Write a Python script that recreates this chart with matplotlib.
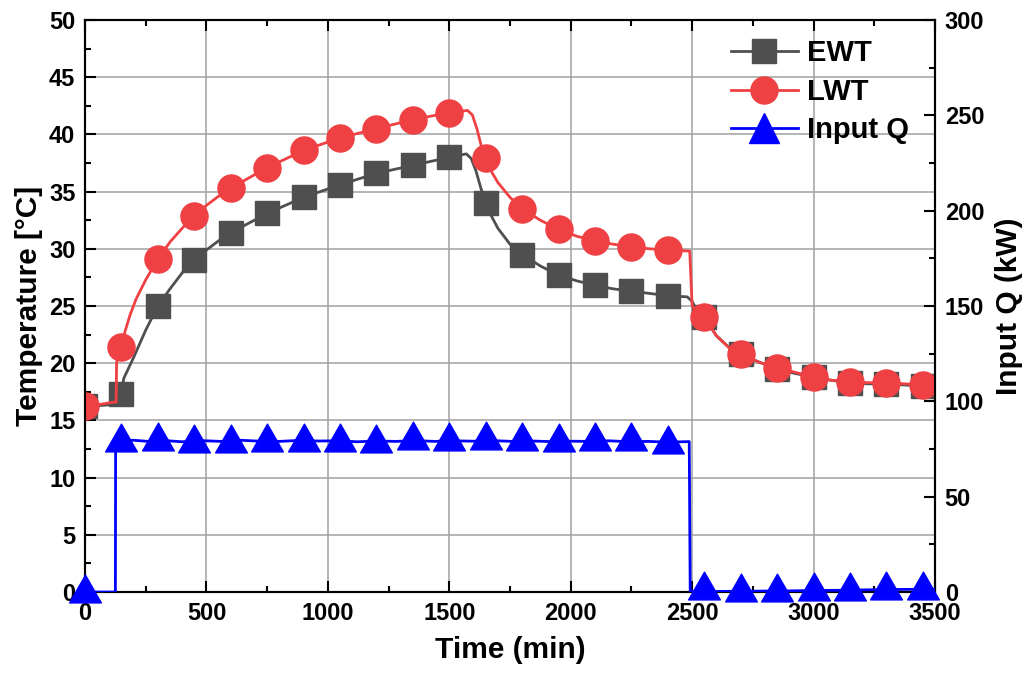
import numpy as np
import matplotlib
matplotlib.use("Agg")
import matplotlib.pyplot as plt
from matplotlib.path import Path
from matplotlib.ticker import MultipleLocator

plt.rcParams["font.family"] = ["Liberation Sans", "DejaVu Sans"]
plt.rcParams["font.weight"] = "bold"

# marker data (every 150 min)
t_mk = [0, 150, 300, 450, 600, 750, 900, 1050, 1200, 1350, 1500, 1650,
        1800, 1950, 2100, 2250, 2400, 2550, 2700, 2850, 3000, 3150, 3300, 3450]
ewt_mk = [16.3, 17.3, 25.0, 29.0, 31.4, 33.1, 34.5, 35.6, 36.6, 37.3, 38.0, 34.0,
          29.5, 27.7, 26.8, 26.3, 25.9, 24.0, 20.8, 19.5, 18.8, 18.3, 18.2, 18.0]
lwt_mk = [16.3, 21.4, 29.1, 32.9, 35.3, 37.1, 38.6, 39.7, 40.5, 41.3, 41.9, 37.9,
          33.5, 31.7, 30.7, 30.2, 29.9, 24.0, 20.8, 19.6, 18.8, 18.4, 18.3, 18.1]
q_mk = [0.0, 79.0, 79.5, 78.5, 78.5, 79.0, 79.0, 79.0, 78.5, 80.5, 79.5, 80.5,
        79.5, 79.0, 79.5, 79.5, 78.0, 1.5, 0.3, 0.6, 0.9, 0.9, 1.7, 1.5]

# line data
t_ewt = [0, 60, 125, 140, 150, 160, 200, 250, 300, 350, 400, 450, 500, 550, 600,
         750, 900, 1050, 1200, 1350, 1500, 1570, 1590, 1610, 1630, 1650, 1675, 1700, 1750, 1800,
         1875, 1950, 2025, 2100, 2175, 2250, 2325, 2400, 2480, 2500, 2520, 2550,
         2600, 2650, 2700, 2775, 2850, 2925, 3000, 3075, 3150, 3225, 3300, 3375, 3450, 3500]
ewt = [16.3, 16.3, 16.4, 16.9, 17.6, 18.7, 20.5, 22.9, 25.0, 26.5, 27.9, 29.0, 29.9, 30.7, 31.4,
       33.1, 34.5, 35.6, 36.6, 37.3, 38.0, 38.3, 37.9, 36.8, 35.3, 34.0, 32.8, 31.8, 30.4, 29.5,
       28.5, 27.7, 27.2, 26.8, 26.5, 26.3, 26.1, 25.9, 25.8, 25.4, 24.6, 24.0,
       22.4, 21.4, 20.8, 20.1, 19.5, 19.1, 18.8, 18.5, 18.3, 18.2, 18.2, 18.1, 18.0, 18.0]

t_lwt = [0, 60, 120, 128, 130, 135, 150, 165, 185, 210, 250, 300, 350, 400, 450, 500, 550, 600,
         750, 900, 1050, 1200, 1350, 1500, 1575, 1595, 1615, 1635, 1650, 1675, 1700, 1750, 1800,
         1875, 1950, 2025, 2100, 2175, 2250, 2325, 2400, 2490, 2500, 2550,
         2600, 2650, 2700, 2775, 2850, 2925, 3000, 3075, 3150, 3225, 3300, 3375, 3450, 3500]
lwt = [16.3, 16.4, 16.6, 16.6, 20.0, 20.7, 21.4, 22.8, 24.2, 25.6, 27.3, 29.1, 30.6, 31.8, 32.9, 33.8, 34.6, 35.3,
       37.1, 38.6, 39.7, 40.5, 41.3, 41.9, 42.1, 41.7, 40.4, 38.7, 37.9, 36.7, 35.8, 34.5, 33.5,
       32.5, 31.7, 31.1, 30.7, 30.4, 30.2, 30.0, 29.9, 29.8, 25.0, 24.0,
       22.4, 21.4, 20.8, 20.1, 19.6, 19.2, 18.8, 18.5, 18.4, 18.3, 18.3, 18.2, 18.1, 18.1]

t_q = [0, 125, 126, 200, 260, 320, 400, 480, 560, 640, 720, 800, 880, 960, 1040,
       1120, 1200, 1280, 1360, 1440, 1520, 1600, 1680, 1760, 1840, 1920, 2000,
       2080, 2160, 2240, 2320, 2400, 2488, 2492,
       2600, 2700, 2800, 2900, 3000, 3100, 3200, 3300, 3400, 3500]
q = [0.0, 0.0, 79.3, 79.6, 79.0, 79.5, 78.8, 79.4, 79.0, 79.6, 79.1, 79.0, 79.5, 79.2, 79.3,
     78.8, 79.2, 79.0, 79.4, 79.0, 79.3, 79.1, 79.4, 79.0, 79.2, 78.9, 79.1,
     79.0, 79.3, 78.8, 79.0, 78.6, 78.9, 0.3,
     0.3, 0.4, 0.5, 0.6, 0.8, 0.9, 1.1, 1.3, 1.4, 1.4]

gray = "#4f4f4f"
red = "#ef4043"
blue = "#0000ff"

# triangle with its centroid near the data point
tri = Path([(0, 1), (-0.914, -0.6), (0.914, -0.6), (0, 1)],
           [Path.MOVETO, Path.LINETO, Path.LINETO, Path.CLOSEPOLY])

fig = plt.figure(figsize=(10.32, 6.86), dpi=100)
ax1 = fig.add_axes([0.0824, 0.137, 0.8236, 0.8338])
ax2 = ax1.twinx()

ax1.plot(t_ewt, ewt, c=gray, lw=2, zorder=3)
ax1.plot(t_mk, ewt_mk, ls="none", marker="s", ms=17, mfc=gray, mec=gray, zorder=4)
ax1.plot(t_lwt, lwt, c=red, lw=2, zorder=5)
ax1.plot(t_mk, lwt_mk, ls="none", marker="o", ms=19.5, mfc=red, mec=red, zorder=6)

ax2.plot(t_q, q, c=blue, lw=2, zorder=3)
ax2.plot(t_mk, q_mk, ls="none", marker=tri, ms=25, mfc=blue, mec=blue, zorder=4, clip_on=False)

ax1.set_xlim(0, 3500)
ax1.set_ylim(0, 50)
ax2.set_ylim(0, 300)

ax1.xaxis.set_major_locator(MultipleLocator(500))
ax1.xaxis.set_minor_locator(MultipleLocator(250))
ax1.yaxis.set_major_locator(MultipleLocator(5))
ax1.yaxis.set_minor_locator(MultipleLocator(2.5))
ax2.yaxis.set_major_locator(MultipleLocator(50))
ax2.yaxis.set_minor_locator(MultipleLocator(25))

ax1.grid(True, which="major", color="#a0a0a0", lw=1.1, zorder=0)
ax1.set_axisbelow(True)

ax1.tick_params(which="both", direction="in", top=True, right=False, width=1.5, labelsize=17, pad=7)
ax1.tick_params(which="major", length=8)
ax1.tick_params(which="minor", length=4)
ax2.tick_params(which="both", direction="in", width=1.5, labelsize=17, pad=7)
ax2.tick_params(which="major", length=8)
ax2.tick_params(which="minor", length=4)
for ax in (ax1, ax2):
    for s in ax.spines.values():
        s.set_linewidth(1.5)

ax1.set_xlabel("Time (min)", fontsize=21.5, fontweight="bold", labelpad=8)
ax1.set_ylabel("Temperature [°C]", fontsize=21.5, fontweight="bold", labelpad=4)
ax2.set_ylabel("Input Q (kW)", fontsize=21.5, fontweight="bold", labelpad=8)

h1, = ax1.plot([], [], c=gray, lw=2, marker="s", ms=17, mfc=gray, mec=gray)
h2, = ax1.plot([], [], c=red, lw=2, marker="o", ms=19.5, mfc=red, mec=red)
h3, = ax1.plot([], [], c=blue, lw=2, marker="^", ms=22, mfc=blue, mec=blue)
leg = ax2.legend([h1, h2, h3], ["EWT", "LWT", "Input Q"], loc="upper right",
                 bbox_to_anchor=(1.0, 1.012), frameon=False, fontsize=21,
                 handlelength=2.3, handletextpad=0.3, labelspacing=0.36, numpoints=1)

plt.savefig("out.png", dpi=100)
